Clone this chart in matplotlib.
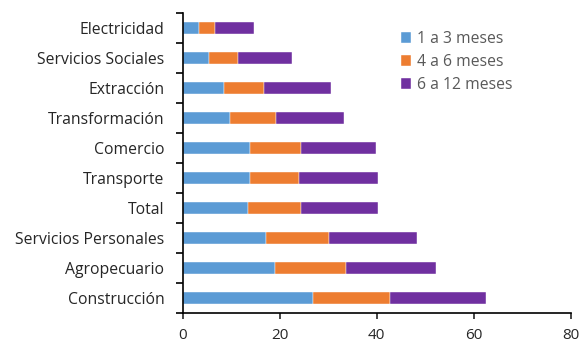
import numpy as np
import matplotlib
matplotlib.use("Agg")
import matplotlib.pyplot as plt

# Data (bottom to top)
sectores = ["Construcción", "Agropecuario", "Servicios Personales", "Total",
            "Transporte", "Comercio", "Transformación", "Extracción",
            "Servicios Sociales", "Electricidad"]
meses_1_3 = [26.9, 19.1, 17.2, 13.5, 13.9, 13.9, 9.8, 8.6, 5.4, 3.4]
meses_4_6 = [15.8, 14.6, 12.9, 11.0, 10.1, 10.5, 9.4, 8.2, 6.1, 3.3]
meses_6_12 = [19.8, 18.6, 18.2, 15.7, 16.2, 15.4, 14.1, 13.8, 11.0, 8.0]
series_labels = ["1 a 3 meses", "4 a 6 meses", "6 a 12 meses"]
colores = ["#5B9BD5", "#ED7D31", "#7030A0"]

plt.rcParams["font.family"] = ["Open Sans", "DejaVu Sans"]

fig = plt.figure(figsize=(5.82, 3.46), dpi=100)
ax = fig.add_axes([0.3136, 0.0954, 0.6675, 0.867])

y = np.arange(len(sectores))
left = np.zeros(len(sectores))
for vals, lab, col in zip([meses_1_3, meses_4_6, meses_6_12], series_labels, colores):
    ax.barh(y, vals, left=left, height=0.42, color=col, label=lab,
            edgecolor="white", linewidth=0.3)
    left += np.array(vals)

ax.set_xlim(0, 80)
ax.set_ylim(-0.5, len(sectores) - 0.5)
ax.set_xticks([0, 20, 40, 60, 80])
ax.tick_params(axis="x", labelsize=11, colors="#262626", length=4, width=1.2, pad=7)

# category boundaries as ticks, labels at centres
ax.set_yticks(np.arange(-0.5, len(sectores), 1.0))
ax.set_yticklabels([])
ax.set_yticks(y, minor=True)
ax.set_yticklabels(sectores, minor=True)
ax.tick_params(axis="y", which="major", length=5, width=1.2)
ax.tick_params(axis="y", which="minor", length=0, labelsize=11.3, colors="#262626", pad=13)

for s in ["top", "right"]:
    ax.spines[s].set_visible(False)
for s in ["left", "bottom"]:
    ax.spines[s].set_linewidth(1.2)

leg = ax.legend(loc="upper left", bbox_to_anchor=(0.525, 0.987), frameon=False,
                fontsize=11.3, handlelength=0.65, handleheight=0.65,
                handletextpad=0.4, labelspacing=0.45)
for t in leg.get_texts():
    t.set_color("#595959")

fig.savefig("out.png", dpi=100)
